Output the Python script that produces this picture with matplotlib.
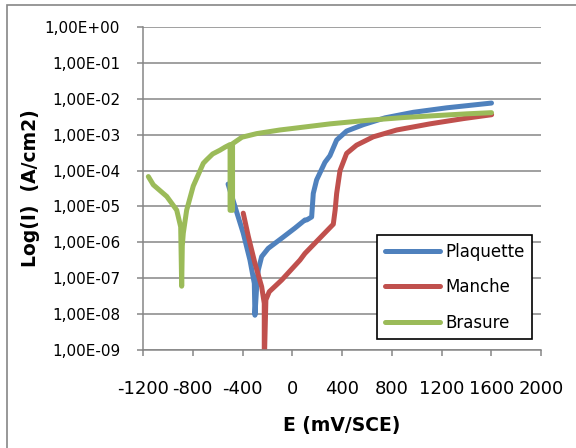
import numpy as np
import matplotlib
matplotlib.use('Agg')
import matplotlib.pyplot as plt
import matplotlib.ticker as mticker
from matplotlib.patches import Rectangle

plt.rcParams['axes.unicode_minus'] = False

# Potential (mV/SCE) and current density (A/cm2)
E_plaquette = [-516, -460, -394, -340, -305, -300, -286, -273, -246, -193, -85, 22, 102,
               116, 156, 169, 196, 263, 303, 357, 437, 571, 747, 973, 1242, 1602]
I_plaquette = [4.2e-5, 9.8e-6, 1.8e-6, 3.2e-7, 7.2e-8, 9.3e-9, 5.8e-8, 1.7e-7, 4.0e-7,
               6.8e-7, 1.3e-6, 2.5e-6, 4.2e-6, 4.2e-6, 5.1e-6, 2.3e-5, 5.5e-5, 1.7e-4,
               2.6e-4, 7.1e-4, 1.26e-3, 1.9e-3, 2.95e-3, 4.2e-3, 5.6e-3, 7.6e-3]

E_manche = [-394, -353, -300, -246, -225, -225, -212, -185, -85, 62, 102, 330, 345, 357,
            384, 437, 517, 651, 840, 1107, 1375, 1603]
I_manche = [6.5e-6, 1.45e-6, 2.6e-7, 5.8e-8, 2.0e-8, 4.0e-10, 2.5e-8, 4.2e-8, 8.9e-8,
            3.2e-7, 4.9e-7, 3.2e-6, 8.0e-6, 2.3e-5, 1.0e-4, 3.0e-4, 5.1e-4, 8.7e-4,
            1.35e-3, 2.0e-3, 2.8e-3, 3.6e-3]

E_brasure = [-1157, -1117, -1009, -929, -897, -889, -884, -876, -849, -796, -715, -688,
             -640, -581, -540, -500, -500, -480, -480, -404, -286, -100, 10, 304, 599,
             894, 1189, 1400, 1602]
I_brasure = [6.8e-5, 4.0e-5, 1.9e-5, 7.9e-6, 2.7e-6, 6.0e-8, 8.0e-7, 1.8e-6, 7.9e-6,
             3.7e-5, 1.6e-4, 2.0e-4, 2.9e-4, 3.7e-4, 4.5e-4, 5.3e-4, 7.8e-6, 7.8e-6,
             5.6e-4, 8.5e-4, 1.07e-3, 1.35e-3, 1.5e-3, 2.0e-3, 2.5e-3, 3.0e-3,
             3.45e-3, 3.8e-3, 4.1e-3]

x_ticks = np.arange(-1200, 2001, 400)
grey = '#868686'

fig = plt.figure(figsize=(5.76, 4.48), dpi=100)
ax = fig.add_axes([143/576, 1-350/448, 398/576, 323/448])

# chart area border (top and left visible)
fig.patches.append(Rectangle((7/576, -0.1), 1.2, 1 - 5.5/448 + 0.1, transform=fig.transFigure,
                             fill=False, edgecolor=grey, linewidth=1.2))

style = dict(linewidth=3.6, solid_capstyle='round', solid_joinstyle='round')
ax.plot(E_plaquette, I_plaquette, color='#4F81BD', label='Plaquette', **style)
ax.plot(E_manche, I_manche, color='#C0504D', label='Manche', **style)
ax.plot(E_brasure, I_brasure, color='#9BBB59', label='Brasure', **style)

ax.set_yscale('log')
ax.set_ylim(1e-9, 1)
ax.set_xlim(-1200, 2000)
ax.yaxis.set_major_locator(mticker.LogLocator(base=10, numticks=15))
ax.yaxis.set_minor_locator(mticker.NullLocator())
ax.yaxis.set_major_formatter(mticker.FuncFormatter(lambda v, p: f"{v:.2E}".replace('.', ',')))
ax.set_xticks(x_ticks)

ax.grid(axis='y', color=grey, linewidth=1.1)
ax.set_axisbelow(True)
for s in ['top', 'right']:
    ax.spines[s].set_visible(False)
for s in ['left', 'bottom']:
    ax.spines[s].set_color(grey)
    ax.spines[s].set_linewidth(1.1)

ax.tick_params(axis='y', direction='out', length=4.5, width=1.1, color=grey, labelsize=11, pad=12)
ax.tick_params(axis='x', direction='out', length=4.5, width=1.1, color=grey, labelsize=13, pad=17)

ax.set_xlabel('E (mV/SCE)', fontsize=13.5, fontweight='bold')
ax.xaxis.set_label_coords(0.5, -0.205)
ax.set_ylabel('Log(I)  (A/cm2)', fontsize=13.5, fontweight='bold')
ax.yaxis.set_label_coords(-0.26, 0.5)

leg = ax.legend(loc='upper right', bbox_to_anchor=(0.977, 0.356), borderaxespad=0,
                fontsize=12, fancybox=False, edgecolor='black', framealpha=1,
                handlelength=3.3, handletextpad=0.3, labelspacing=1.05, borderpad=0.45)
leg.get_frame().set_linewidth(1.2)

plt.savefig('out.png', dpi=100)
